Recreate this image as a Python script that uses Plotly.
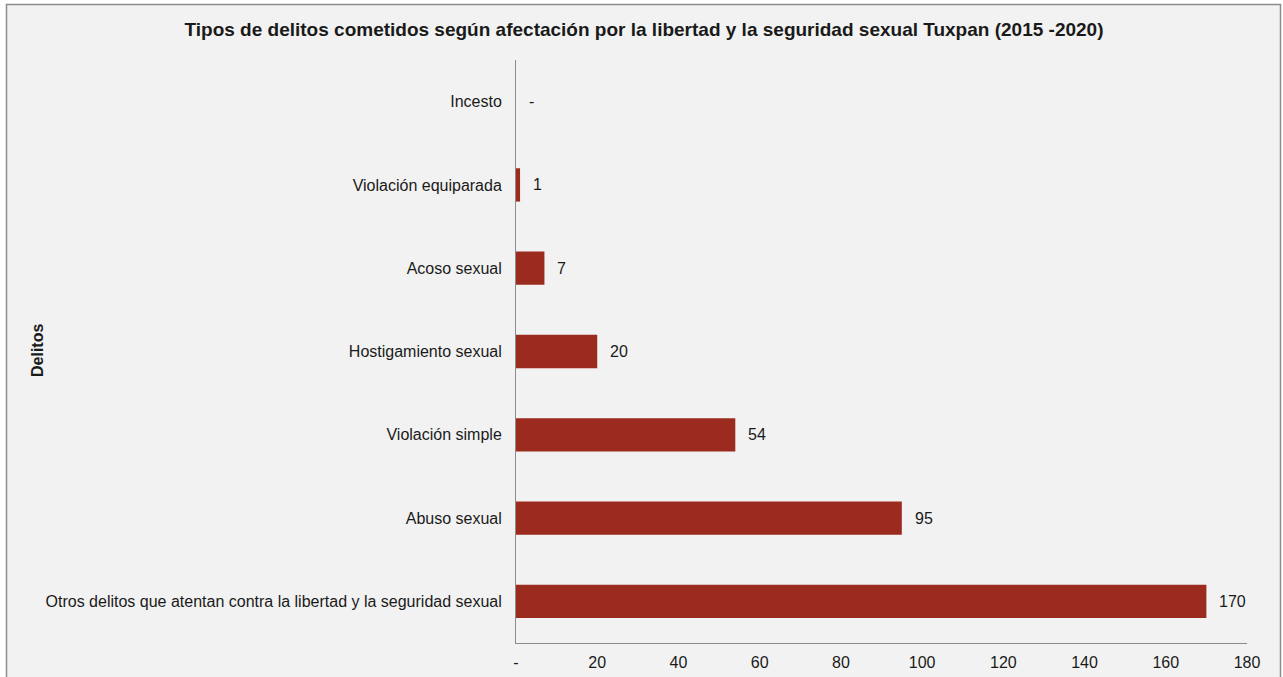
import plotly.graph_objects as go

categories = [
    "Incesto",
    "Violación equiparada",
    "Acoso sexual",
    "Hostigamiento sexual",
    "Violación simple",
    "Abuso sexual",
    "Otros delitos que atentan contra la libertad y la seguridad sexual",
]
values = [0, 1, 7, 20, 54, 95, 170]
x_tick_vals = [0, 20, 40, 60, 80, 100, 120, 140, 160, 180]
x_tick_text = ["-", "20", "40", "60", "80", "100", "120", "140", "160", "180"]

title_text = "Tipos de delitos cometidos según afectación por la libertad y la seguridad sexual Tuxpan (2015 -2020)"
y_title = "Delitos"

W, H = 1283, 677
ML, MR, MT, MB = 516, 36, 60, 34
PW = W - ML - MR
PH = H - MT - MB

def px_x(px):
    return (px - ML) / PW

def px_y(py):
    return (H - MB - py) / PH

FONT = "Liberation Sans, Arial, sans-serif"
TXT = "#1a1a1a"
BAR = "#9C2B1F"
FS = 16

fig = go.Figure()
fig.add_trace(go.Bar(
    x=values, y=categories, orientation="h",
    marker=dict(color=BAR, line=dict(width=0)),
    width=0.4, hoverinfo="x+y",
))

for c, v in zip(categories, values):
    fig.add_annotation(
        x=v, y=c, xref="x", yref="y",
        text="-" if v == 0 else str(v),
        showarrow=False, xanchor="left", yanchor="middle", xshift=11,
        font=dict(family=FONT, size=FS, color=TXT),
    )

fig.add_annotation(
    x=px_x(37), y=px_y(351), xref="paper", yref="paper",
    text=y_title, textangle=-90, showarrow=False,
    xanchor="center", yanchor="middle",
    font=dict(family=FONT, size=FS, color=TXT, weight="bold"),
)

fig.add_shape(
    type="rect", xref="paper", yref="paper",
    x0=px_x(6.5), x1=px_x(1280.5), y0=px_y(700), y1=px_y(4.5),
    fillcolor="#F2F2F2", line=dict(color="#8C8C8C", width=1.5), layer="below",
)

fig.update_layout(
    width=W, height=H,
    margin=dict(l=ML, r=MR, t=MT, b=MB, autoexpand=False),
    paper_bgcolor="white", plot_bgcolor="rgba(0,0,0,0)",
    showlegend=False,
    title=dict(
        text=title_text, x=px_x(644), xref="paper", xanchor="center",
        y=1 - 29 / H, yref="container", yanchor="middle",
        font=dict(family=FONT, size=19, color=TXT, weight="bold"),
    ),
    font=dict(family=FONT, size=FS, color=TXT),
    xaxis=dict(
        range=[0, 180], tickvals=x_tick_vals, ticktext=x_tick_text,
        showgrid=False, zeroline=False, showline=True, linecolor="#8C8C8C", linewidth=1,
        ticks="outside", ticklen=5, tickcolor="rgba(0,0,0,0)",
        tickfont=dict(family=FONT, size=FS, color=TXT),
    ),
    yaxis=dict(
        autorange="reversed", showgrid=False, zeroline=False,
        showline=True, linecolor="#8C8C8C", linewidth=1,
        ticks="outside", ticklen=10, tickcolor="rgba(0,0,0,0)",
        tickfont=dict(family=FONT, size=FS, color=TXT),
    ),
)

fig.write_html(
    "out.html",
    config={"displayModeBar": False},
    post_script="document.body.style.margin='0';",
)
